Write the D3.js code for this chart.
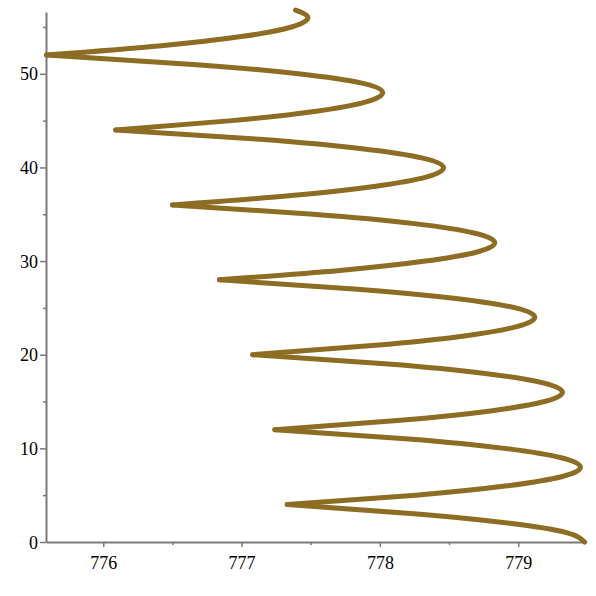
<!DOCTYPE html>
<html>
<head>
<meta charset="utf-8">
<script src="https://cdn.jsdelivr.net/npm/d3@7"></script>
<style>
  html, body { margin: 0; padding: 0; background: #fff; }
  svg { display: block; }
  .tick text { font-family: 'Liberation Serif', 'Times New Roman', serif; }
</style>
</head>
<body>
<svg id="chart" width="596" height="596"></svg>
<script>
// ---- data ----
const curveY = [0,1,2,3,4,5,6,7,8,9,10,11,12,13,14,15,16,17,18,19,20,
  21,22,23,24,25,26,27,28,29,30,31,32,33,34,35,36,37,38,39,40,
  41,42,43,44,45,46,47,48,49,50,51,52,53,54,55,56,56.8];
const curveX = [779.48,779.35,778.94,778.27,777.33,
  778.26,778.92,779.32,779.45,779.31,778.90,778.21,777.24,
  778.15,778.80,779.19,779.32,779.18,778.76,778.06,777.08,
  777.97,778.61,778.99,779.12,778.98,778.55,777.84,776.84,
  777.71,778.33,778.71,778.83,778.68,778.25,777.52,776.50,
  777.36,777.97,778.34,778.46,778.31,777.87,777.13,776.09,
  776.93,777.54,777.90,778.02,777.87,777.41,776.65,775.59,
  776.42,777.01,777.36,777.48,777.39];
const cuspY = [4,12,20,28,36,44,52];          // sharp left turns of the curve
const xTicks = [776,777,778,779];
const xMinorTicks = [776.5,777.5,778.5];
const yTicks = [0,10,20,30,40,50];
const yMinorTicks = [5,15,25,35,45,55];

// ---- layout ----
const svg = d3.select("#chart");
const x = d3.scaleLinear().domain([775.586, 779.483]).range([46, 585]);
const y = d3.scaleLinear().domain([0, 56.6]).range([542, 12]);

const axisColor = "#7a7a7a";
const font = "'Liberation Serif','Times New Roman',serif";

// x axis
const gx = svg.append("g").attr("transform", `translate(0,${y(0)})`);
gx.call(d3.axisBottom(x).tickValues(xTicks).tickFormat(d3.format("d")).tickSize(5).tickSizeOuter(0));
gx.append("g").call(d3.axisBottom(x).tickValues(xMinorTicks).tickFormat("").tickSize(3).tickSizeOuter(0))
  .select(".domain").remove();
// y axis
const gy = svg.append("g").attr("transform", `translate(${x.range()[0]},0)`);
gy.call(d3.axisLeft(y).tickValues(yTicks).tickFormat(d3.format("d")).tickSize(6).tickSizeOuter(0));
gy.append("g").call(d3.axisLeft(y).tickValues(yMinorTicks).tickFormat("").tickSize(3).tickSizeOuter(0))
  .select(".domain").remove();

svg.selectAll("g").attr("font-family", font);
svg.selectAll(".domain").attr("stroke", axisColor).attr("stroke-width", 2);
svg.selectAll(".tick line").attr("stroke", axisColor).attr("stroke-width", 1.5);
svg.selectAll(".tick text").attr("fill", "#000").style("font-family", font).attr("font-size", 18);
gx.selectAll(".tick text").attr("dy", "1.05em");
gy.selectAll(".tick text").attr("x", -8).attr("dy", "0.34em");

// ---- curve, split into arcs at the cusps ----
const pts = curveY.map((v, i) => [curveX[i], v]);
const arcs = [];
let cur = [];
pts.forEach(p => {
  cur.push(p);
  if (cuspY.includes(p[1])) { arcs.push(cur); cur = [p]; }
});
if (cur.length > 1) arcs.push(cur);

const line = d3.line()
  .x(d => x(d[0]))
  .y(d => y(d[1]))
  .curve(d3.curveNatural);

svg.append("g").selectAll("path").data(arcs).join("path")
  .attr("d", line)
  .attr("fill", "none")
  .attr("stroke", "#8d6c23")
  .attr("stroke-width", 5)
  .attr("stroke-linecap", "round")
  .attr("stroke-linejoin", "round");
</script>
</body>
</html>
